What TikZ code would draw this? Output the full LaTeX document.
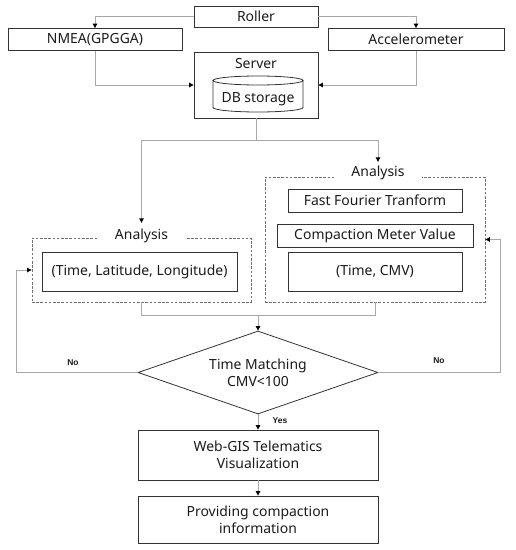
\documentclass[tikz,border=0pt]{standalone}
\usepackage{fontspec}
\setmainfont{Noto Sans}
\newfontfamily\ynfont{Liberation Sans}
\usetikzlibrary{shapes.geometric,arrows.meta}
\definecolor{conncol}{HTML}{A8A8A8}
\definecolor{boxcol}{HTML}{333333}
\definecolor{dashcol}{HTML}{707070}
\definecolor{txtcol}{HTML}{1A1A1A}
\tikzset{
  box/.style={draw=boxcol, text=txtcol, line width=0.8bp, inner sep=0pt, align=center, font=\fontsize{14}{17}\selectfont},
  grp/.style={draw=dashcol, dash pattern=on 2.6bp off 1.6bp, line width=0.9bp, inner sep=0pt},
  grplabel/.style={fill=white, text=txtcol, inner xsep=17bp, inner ysep=1bp, font=\fontsize{14}{17}\selectfont},
  conn/.style={draw=conncol, line width=0.9bp},
  arr/.style={conn, -{Triangle[color=black, length=4.5bp, width=4.5bp]}},
  yn/.style={text=txtcol, font=\ynfont\bfseries\fontsize{8.5}{10}\selectfont, inner sep=1bp},
}
\begin{document}
\begin{tikzpicture}[x=1bp, y=-1bp]
\useasboundingbox (0,0) rectangle (516,550);
% top row
\node[box, minimum width=124bp, minimum height=21bp] (roller) at (256,16.5) {Roller};
\node[box, minimum width=174bp, minimum height=22bp] (nmea) at (95,39.5) {NMEA(GPGGA)};
\node[box, minimum width=176bp, minimum height=22bp] (acc) at (416,39.5) {Accelerometer};
% server
\node[box, minimum width=124bp, minimum height=66bp] (server) at (256,85) {};
\node[text=txtcol, font=\fontsize{14}{17}\selectfont, inner sep=0pt] (servertxt) at (256,64) {Server};
\draw[draw=boxcol, line width=0.8bp] (213,80.5) -- (213,107.5) arc[start angle=180, end angle=0, x radius=45, y radius=4.5] -- (303,80.5);
\draw[draw=boxcol, line width=0.8bp] (258,80.5) ellipse [x radius=45, y radius=4.5];
\node[text=txtcol, font=\fontsize{14}{17}\selectfont, inner sep=0pt] (db) at (258,99) {DB storage};
% analysis groups
\node[grp, minimum width=219bp, minimum height=64bp] (lgrp) at (141.5,270) {};
\node[grplabel] (lana) at (141.5,236) {Analysis};
\node[grp, minimum width=220bp, minimum height=125bp] (rgrp) at (375,239.5) {};
\node[grplabel] (rana) at (378,173) {Analysis};
\node[box, minimum width=195bp, minimum height=39bp] (tll) at (139.5,271.5) {(Time, Latitude, Longitude)};
\node[box, minimum width=174bp, minimum height=23bp] (fft) at (375,200.5) {Fast Fourier Tranform};
\node[box, minimum width=196bp, minimum height=23bp] (cmv) at (375,235.5) {Compaction Meter Value};
\node[box, minimum width=174bp, minimum height=39bp] (tcmv) at (375,271.5) {(Time, CMV)};
% decision
\node[box, shape=diamond, aspect=2.9, minimum width=240bp, minimum height=83bp] (dia) at (258,372.5) {Time Matching\\CMV<100};
\node[box, minimum width=240bp, minimum height=50bp] (web) at (258,455) {Web-GIS Telematics\\Visualization};
\node[box, minimum width=240bp, minimum height=47bp] (prov) at (258,519.5) {Providing compaction\\information};
% connectors
\draw[arr] (roller.west) -| (nmea.north);
\draw[arr] (roller.east) -| (acc.north);
\draw[arr] (nmea.south) |- (server.west);
\draw[arr] (acc.south) |- (server.east);
\coordinate (split) at (256,140);
\draw[conn] (server.south) -- (split);
\draw[arr] (split) -| ([yshift=5bp]lana.north);
\draw[arr] (split) -| ([yshift=3bp]rana.north);
\coordinate (merge) at (258,315);
\draw[conn] (lgrp.south) |- (merge);
\draw[conn] (rgrp.south) |- (merge);
\draw[arr] (merge) -- (dia.north);
\draw[arr] (dia.west) -- ++(-121,0) |- (lgrp.west);
\draw[arr] (dia.east) -- ++(122,0) |- (rgrp.east);
\draw[arr] (dia.south) -- (web.north);
\draw[arr] (web.south) -- (prov.north);
\node[yn] (nol) at (73,363) {No};
\node[yn] (nor) at (439,361) {No};
\node[yn] (yes) at (280,421) {Yes};
\end{tikzpicture}
\end{document}
